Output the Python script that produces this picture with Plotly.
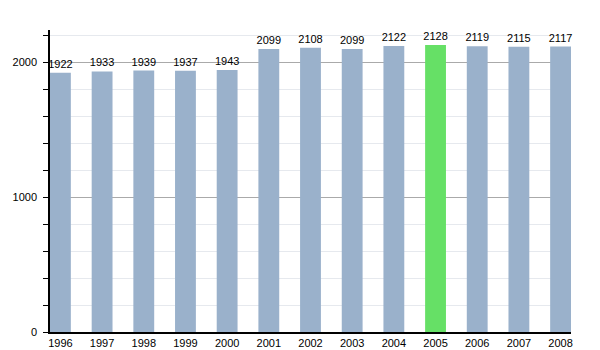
import plotly.graph_objects as go

years = ["1996", "1997", "1998", "1999", "2000", "2001", "2002",
         "2003", "2004", "2005", "2006", "2007", "2008"]
population = [1922, 1933, 1939, 1937, 1943, 2099, 2108,
              2099, 2122, 2128, 2119, 2115, 2117]
highlight_year = "2005"

colors = ["#66e066" if y == highlight_year else "#9ab1cb" for y in years]

fig = go.Figure(go.Bar(
    x=list(range(len(years))),
    y=population,
    width=0.5,
    marker=dict(color=colors, line=dict(width=0)),
    text=[str(v) for v in population],
    textposition="outside",
    constraintext="none",
    cliponaxis=False,
    textfont=dict(family="Liberation Sans, Arial, sans-serif", size=11, color="#000"),
))

fig.update_layout(
    width=600, height=350,
    margin=dict(l=50, r=29, t=30, b=18),
    paper_bgcolor="white", plot_bgcolor="white",
    showlegend=False,
    font=dict(family="Liberation Sans, Arial, sans-serif", size=11, color="#000"),
    xaxis=dict(
        range=[-0.25, len(years) - 0.75],
        tickmode="array",
        tickvals=list(range(len(years))),
        ticktext=years,
        showgrid=False,
        showline=True, linecolor="#000", linewidth=1.5,
        ticks="", zeroline=False,
        ticklabelstandoff=0,
        automargin=False,
    ),
    yaxis=dict(
        range=[0, 2240],
        dtick=1000,
        showline=True, linecolor="#000", linewidth=1.5,
        ticks="outside", ticklen=5, tickcolor="#000",
        showgrid=True, gridcolor="#aaaaaa", gridwidth=1,
        zeroline=False,
        ticklabelstandoff=4,
        automargin=False,
        minor=dict(dtick=200, ticks="outside", ticklen=5, tickcolor="#000",
                   showgrid=True, gridcolor="#e6e9ee", gridwidth=1),
    ),
    bargap=0.5,
)

fig.write_html("out.html")
